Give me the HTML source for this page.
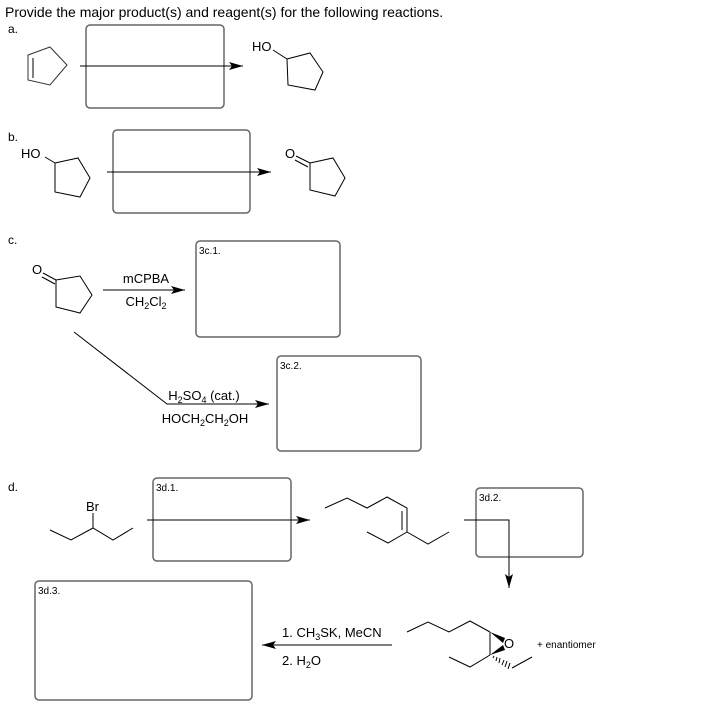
<!DOCTYPE html>
<html><head><style>
body{margin:0;background:#fff;}
svg{display:block;font-family:"Liberation Sans",Arial,sans-serif;}
</style></head><body>
<svg width="717" height="710" viewBox="0 0 717 710" xmlns="http://www.w3.org/2000/svg">
<defs><marker id="ah" viewBox="0 0 14 8" refX="14" refY="4" markerWidth="14" markerHeight="8" markerUnits="userSpaceOnUse" orient="auto"><path d="M0,0 L14,4 L0,8 L3,4z" fill="#000"/></marker></defs>
<text x="5" y="17" font-size="14" fill="#000">Provide the major product(s) and reagent(s) for the following reactions.</text>
<g font-size="12">
<text x="8" y="33">a.</text><text x="8" y="141">b.</text><text x="8" y="244">c.</text><text x="8" y="491">d.</text>
</g>
<g fill="none" stroke="#666" stroke-width="1.5">
<rect x="86" y="25" width="138" height="83" rx="4"/>
<rect x="113" y="130" width="137" height="83" rx="4"/>
<rect x="196" y="241" width="144" height="96" rx="4"/>
<rect x="277" y="356" width="144" height="95" rx="4"/>
<rect x="153" y="478" width="138" height="83" rx="4"/>
<rect x="476" y="488" width="107" height="69" rx="4"/>
<rect x="35" y="581" width="217" height="119" rx="4"/>
</g>
<g font-size="10">
<text x="199" y="254">3c.1.</text><text x="280" y="369">3c.2.</text>
<text x="156" y="491">3d.1.</text><text x="479" y="501">3d.2.</text><text x="38" y="594">3d.3.</text>
</g>
<g fill="none" stroke="#000" stroke-width="1">
<polygon points="28,55 50,47 67,65 50,85 28,80" stroke="#333"/>
<line x1="33" y1="58" x2="33" y2="78"/>
<line x1="80" y1="66" x2="243" y2="66" marker-end="url(#ah)"/>
<line x1="273" y1="50" x2="287" y2="59"/>
<polygon points="287,59 310,53 323,72 315,90 288,85"/>
<line x1="45" y1="157" x2="55" y2="163"/>
<polygon points="55,163 78,158 90,178 80,197 55,192"/>
<line x1="107" y1="172" x2="271" y2="172" marker-end="url(#ah)"/>
<line x1="296" y1="156" x2="310" y2="163"/><line x1="295" y1="160" x2="308" y2="167"/>
<polygon points="310,163 333,158 345,178 335,196 310,190"/>
<line x1="43" y1="273" x2="56" y2="280"/><line x1="42" y1="277" x2="55" y2="284"/>
<polygon points="56,280 80,276 92,295 80,313 56,307"/>
<line x1="103" y1="290" x2="185" y2="290" marker-end="url(#ah)"/>
<polyline points="74,332 167,404 269,404" marker-end="url(#ah)"/>
<polyline points="50,530 71,540 93,528 113,540 133,528"/><line x1="93" y1="528" x2="93" y2="513"/>
<line x1="147" y1="520" x2="310" y2="520" marker-end="url(#ah)"/>
<polyline points="325,508 347,498 367,508 387,497 407,508 407,532 428,544 449,532"/>
<polyline points="407,532 388,543 367,532"/>
<line x1="402" y1="511" x2="402" y2="530"/>
<polyline points="464,520 509,520 509,588" marker-end="url(#ah)"/>
<line x1="392" y1="645" x2="262" y2="645" marker-end="url(#ah)"/>
<polyline points="407,632 428,622 449,632 470,621 490,632"/>
<line x1="490" y1="632" x2="490" y2="655"/>
<polyline points="449,657 470,667 490,655"/>
<line x1="512" y1="668" x2="532" y2="657"/>
</g>
<polygon points="490,632 505,638 503,643" fill="#000"/>
<polygon points="490,655 503,645 505,650" fill="#000"/>
<g stroke="#000" stroke-width="1">
<line x1="493" y1="658" x2="494" y2="656"/><line x1="496" y1="661" x2="497" y2="657"/><line x1="499" y1="663" x2="500" y2="658"/><line x1="502" y1="665" x2="504" y2="660"/><line x1="505" y1="667" x2="507" y2="661"/><line x1="508" y1="669" x2="510" y2="663"/>
</g>
<g font-size="13" fill="#000">
<text x="252" y="51">HO</text>
<text x="21" y="158">HO</text>
<text x="285" y="158">O</text>
<text x="32" y="274">O</text>
<text x="146" y="283" text-anchor="middle">mCPBA</text>
<text x="146" y="306" text-anchor="middle">CH<tspan font-size="9" dy="3">2</tspan><tspan dy="-3">Cl</tspan><tspan font-size="9" dy="3">2</tspan></text>
<text x="204" y="400" text-anchor="middle">H<tspan font-size="9" dy="3">2</tspan><tspan dy="-3">SO</tspan><tspan font-size="9" dy="3">4</tspan><tspan dy="-3"> (cat.)</tspan></text>
<text x="205" y="423" text-anchor="middle">HOCH<tspan font-size="9" dy="3">2</tspan><tspan dy="-3">CH</tspan><tspan font-size="9" dy="3">2</tspan><tspan dy="-3">OH</tspan></text>
<text x="86" y="511">Br</text>
<text x="282" y="637">1. CH<tspan font-size="9" dy="3">3</tspan><tspan dy="-3">SK, MeCN</tspan></text>
<text x="282" y="665">2. H<tspan font-size="9" dy="3">2</tspan><tspan dy="-3">O</tspan></text>
<text x="504" y="648">O</text>
</g>
<text x="537" y="648" font-size="10">+ enantiomer</text>
</svg>
</body></html>
